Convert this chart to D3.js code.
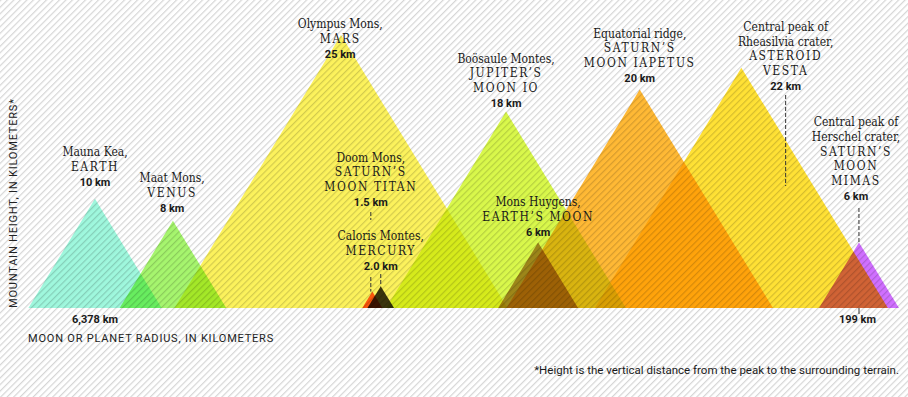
<!DOCTYPE html>
<html>
<head>
<meta charset="utf-8">
<script src="https://cdn.jsdelivr.net/npm/d3@7/dist/d3.min.js"></script>
<style>
  html, body { margin: 0; padding: 0; background: #fff; }
  svg { display: block; }
  .peak { mix-blend-mode: multiply; }
  .name { font-family: "DejaVu Serif Condensed", "DejaVu Serif", serif; font-size: 12px; fill: #1a1a1a; }
  .body { font-family: "DejaVu Serif Condensed", "DejaVu Serif", serif; font-size: 12px; letter-spacing: 1.6px; fill: #1a1a1a; }
  .value { font-family: Roboto, sans-serif; font-weight: 700; font-size: 11px; fill: #1a1a1a; }
  .axis-title { font-family: Roboto, sans-serif; font-size: 11px; letter-spacing: 0.8px; fill: #222; }
  .note { font-family: Roboto, sans-serif; font-size: 11.5px; letter-spacing: 0px; fill: #1a1a1a; }
</style>
</head>
<body>
<svg id="chart"></svg>
<script>
// data
const names = [
  ['Mauna Kea,'], ['Maat Mons,'], ['Olympus Mons,'], ['Doom Mons,'], ['Caloris Montes,'],
  ['Boösaule Montes,'], ['Mons Huygens,'], ['Equatorial ridge,'],
  ['Central peak of', 'Rheasilvia crater,'], ['Central peak of', 'Herschel crater,']
];
const bodies = [
  ['EARTH'], ['VENUS'], ['MARS'], ['SATURN’S', 'MOON TITAN'], ['MERCURY'],
  ['JUPITER’S', 'MOON IO'], ['EARTH’S MOON'], ['SATURN’S', 'MOON IAPETUS'],
  ['ASTEROID', 'VESTA'], ['SATURN’S', 'MOON', 'MIMAS']
];
const heights = [10, 8, 25, 1.5, 2.0, 18, 6, 20, 22, 6];
const heightLabels = ['10 km', '8 km', '25 km', '1.5 km', '2.0 km', '18 km', '6 km', '20 km', '22 km', '6 km'];
const radiusLabels = ['6,378 km', '199 km'];
const colors = ['#9ff7dd', '#a6f56e', '#fcf25c', '#ff5b1f', '#3b3722',
  '#d9f84b', '#b98a55', '#ffb935', '#ffe135', '#d070ff'];

// layout (positions along the radius axis, 0 = Earth, 100 = Mimas)
const peakSlot = [0, 10.2, 32.2, 36.3, 37.4, 53.8, 58.0, 71.3, 84.6, 100];
const labelSlot = [0, 10.1, 32.1, 36.1, 37.4, 53.8, 58.0, 71.3, 90.4, 99.6];
const valueBaseline = [186, 212, 58, 206, 270, 107, 236, 82, 90, 200];
// leader segments: [index, dx, top y, bottom y or null for peak]
const leaders = [[3, 0, 212, 220], [3, 0, 277, null], [4, 0, 274, null], [8, 0, 95, 186], [9, 3, 208, null]];

const width = 908, height = 397;
const baseY = 308;
const slope = 0.61;   // half base width per pixel of height
const lineH = 14.8;

const svg = d3.select('#chart').attr('width', width).attr('height', height);

const x = d3.scaleLinear().domain([0, 100]).range([95, 859]);
const y = d3.scaleLinear().domain([0, 25]).range([baseY, 35]);

// striped background
const defs = svg.append('defs');
const pat = defs.append('pattern')
  .attr('id', 'stripes')
  .attr('patternUnits', 'userSpaceOnUse')
  .attr('width', 4.6).attr('height', 10)
  .attr('patternTransform', 'rotate(45)');
pat.append('rect').attr('width', 4.6).attr('height', 10).attr('fill', '#fff');
pat.append('rect').attr('width', 1.2).attr('height', 10).attr('fill', '#d6d6d6');

const g = svg.append('g').style('isolation', 'isolate');
g.append('rect').attr('width', width).attr('height', height).attr('fill', 'url(#stripes)');

const peaks = heights.map((h, i) => ({h, i}));

g.selectAll('path.peak')
  .data(peaks)
  .join('path')
  .attr('class', 'peak')
  .attr('fill', d => colors[d.i])
  .attr('d', d => {
    const cx = x(peakSlot[d.i]);
    const top = y(d.h);
    const hw = slope * (y(0) - top);
    return d3.line()([[cx - hw, y(0)], [cx, top], [cx + hw, y(0)]]) + 'Z';
  });

// leader lines
svg.append('g')
  .selectAll('line')
  .data(leaders)
  .join('line')
  .attr('x1', d => x(labelSlot[d[0]]) + d[1])
  .attr('x2', d => x(labelSlot[d[0]]) + d[1])
  .attr('y1', d => d[2])
  .attr('y2', d => d[3] === null ? y(heights[d[0]]) : d[3])
  .attr('stroke', '#333')
  .attr('stroke-width', 1)
  .attr('stroke-dasharray', '4,2');

// labels
const labels = svg.append('g')
  .selectAll('g')
  .data(peaks)
  .join('g')
  .attr('transform', d => `translate(${x(labelSlot[d.i])},${valueBaseline[d.i]})`)
  .attr('text-anchor', 'middle');

labels.append('text')
  .attr('class', 'value')
  .text(d => heightLabels[d.i]);

labels.each(function (d) {
  const sel = d3.select(this);
  const b = bodies[d.i];
  const n = names[d.i];
  b.forEach((t, k) => {
    sel.append('text').attr('class', 'body')
      .attr('y', -(b.length - k) * lineH)
      .text(t);
  });
  n.forEach((t, k) => {
    sel.append('text').attr('class', 'name')
      .attr('y', -(b.length + n.length - k) * lineH)
      .text(t);
  });
});

// radius axis
svg.append('line')
  .attr('x1', x(100)).attr('x2', x(100))
  .attr('y1', baseY).attr('y2', baseY + 6)
  .attr('stroke', '#333');

svg.selectAll('text.radius')
  .data(radiusLabels)
  .join('text')
  .attr('class', 'value radius')
  .attr('text-anchor', 'middle')
  .attr('x', (d, i) => x(i === 0 ? 0 : 99.8))
  .attr('y', baseY + 15)
  .text(d => d);

svg.append('text')
  .attr('class', 'axis-title')
  .attr('x', 28).attr('y', 342)
  .text('MOON OR PLANET RADIUS, IN KILOMETERS');

svg.append('text')
  .attr('class', 'axis-title')
  .attr('transform', `translate(17,${baseY}) rotate(-90)`)
  .text('MOUNTAIN HEIGHT, IN KILOMETERS*');

svg.append('text')
  .attr('class', 'note')
  .attr('x', 899).attr('y', 374)
  .attr('text-anchor', 'end')
  .text('*Height is the vertical distance from the peak to the surrounding terrain.');
</script>
</body>
</html>
